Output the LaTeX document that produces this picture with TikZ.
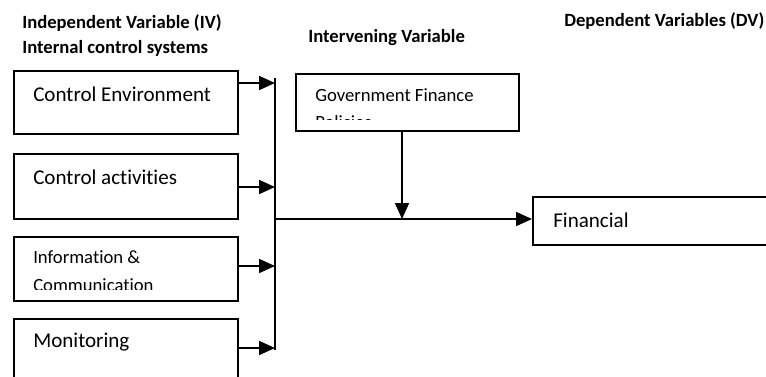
\documentclass[tikz,border=0pt]{standalone}
\usepackage{fontspec}
\setmainfont{Carlito}[Ligatures=NoCommon]
\usetikzlibrary{arrows.meta,positioning}

\tikzset{
  box/.style={draw, line width=1.3pt, inner sep=0pt, anchor=north west},
  head/.style={font=\bfseries\fontsize{14}{16}\selectfont, anchor=base west, inner sep=0pt},
  boxtext/.style={font=\fontsize{15.8}{18}\selectfont, anchor=base west, inner sep=0pt},
  smalltext/.style={font=\fontsize{14}{18}\selectfont, anchor=base west, inner sep=0pt},
  wire/.style={line width=1.3pt},
  flow/.style={line width=1.3pt, -{Triangle[length=12pt, width=10.5pt]}}
}

\begin{document}
\begin{tikzpicture}[x=0.75pt, y=-0.75pt]
    % page size as the reference (766 x 376 px)
    \useasboundingbox (0,0) rectangle (766,376);
    \clip (0,0) rectangle (766,376);

    % Headings
    \node[head] (ivhead) at (22,28) {Independent Variable (IV)};
    \node[head] (ichead) at (22,53) {Internal control systems};
    \node[head] (inthead) at (308,42) {Intervening Variable};
    \node[head] (dvhead) at (564,26) {Dependent Variables (DV)};

    % Left: internal control boxes
    \node[box, minimum width=168pt, minimum height=47.25pt] (env) at (13,70) {};
    \node[boxtext] (envtext) at (33,101) {Control Environment};

    \node[box, minimum width=168pt, minimum height=48.75pt] (act) at (13,153) {};
    \node[boxtext] (acttext) at (33,184) {Control activities};

    \node[box, minimum width=168pt, minimum height=48pt] (info) at (13,236) {};
    \begin{scope}
      \clip (info.north west) rectangle (237,289);
      \node[smalltext] (infotext) at (33,263) {Information \&};
      \node[smalltext] (commtext) at (33,291) {Communication};
    \end{scope}

    \node[box, minimum width=168pt, minimum height=60pt] (mon) at (13,318) {};
    \node[boxtext] (montext) at (33,347) {Monitoring};

    % Middle: intervening variable
    \node[box, minimum width=167.25pt, minimum height=42.75pt] (gov) at (295,73) {};
    \begin{scope}
      \clip (gov.north west) rectangle (518,119);
      \node[smalltext] (govtext) at (315,101) {Government Finance};
      \node[smalltext] (poltext) at (315,128) {Policies};
    \end{scope}

    % Right: dependent variable
    \node[box, minimum width=195pt, minimum height=36pt] (fin) at (532,196) {};
    \node[boxtext] (fintext) at (553,227) {Financial};

    % Collecting bus
    \coordinate (bustop) at (275,78);
    \coordinate (busbot) at (275,350);
    \draw[wire] (bustop) -- (busbot);

    \coordinate (envin) at (275,83);
    \coordinate (actin) at (275,187);
    \coordinate (infoin) at (275,266);
    \coordinate (monin) at (275,348);
    \draw[flow] (env.east |- envin) -- (envin);
    \draw[flow] (act.east |- actin) -- (actin);
    \draw[flow] (info.east |- infoin) -- (infoin);
    \draw[flow] (mon.east |- monin) -- (monin);

    % Main line to the outcome
    \coordinate (junction) at (275,219);
    \coordinate (merge) at (402,219);
    \draw[flow] (junction) -- (fin.west |- junction);
    \draw[flow] (merge |- gov.south) -- (merge);
\end{tikzpicture}
\end{document}
